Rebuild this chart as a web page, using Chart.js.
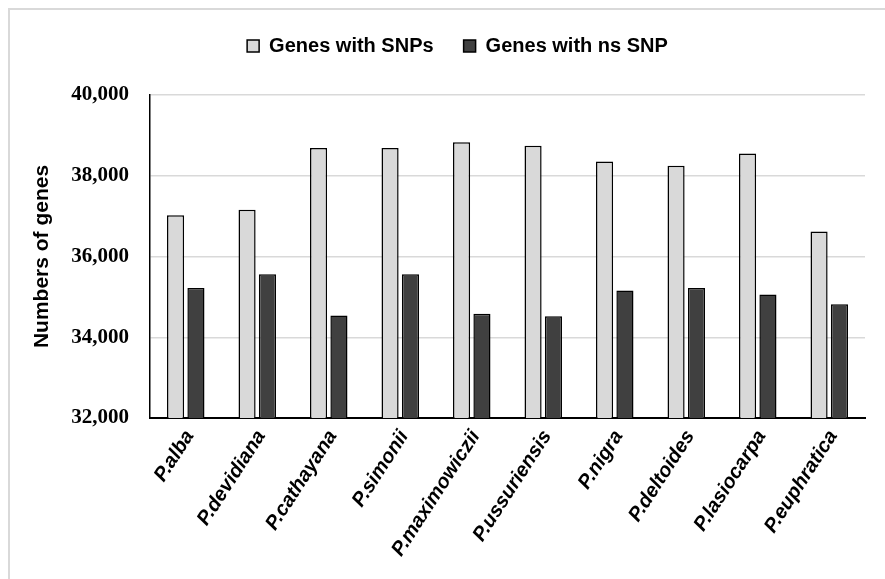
<!DOCTYPE html>
<html>
<head>
<meta charset="utf-8">
<script src="https://cdn.jsdelivr.net/npm/chart.js@4/dist/chart.umd.min.js"></script>
<style>
  html, body { margin: 0; padding: 0; background: #fff; }
  #wrap { position: relative; width: 885px; height: 579px; }
</style>
</head>
<body>
<div id="wrap"><canvas id="c" width="885" height="579"></canvas></div>
<script>
// Poplar species and gene counts
const species = ['P.alba', 'P.devidiana', 'P.cathayana', 'P.simonii', 'P.maximowiczii',
  'P.ussuriensis', 'P.nigra', 'P.deltoides', 'P.lasiocarpa', 'P.euphratica'];
const genesWithSNPs = [37020, 37160, 38690, 38690, 38830, 38740, 38350, 38250, 38550, 36620];
const genesWithNsSNP = [35220, 35560, 34540, 35560, 34580, 34520, 35160, 35220, 35060, 34820];
const yTicks = [32000, 34000, 36000, 38000, 40000];

const SANS = '"Liberation Sans", Arial, sans-serif';
const SERIF = '"Liberation Serif", "Times New Roman", serif';

// light grey frame along the top and left edge
const framePlugin = {
  id: 'frame',
  beforeDraw(chart) {
    const ctx = chart.ctx;
    ctx.save();
    ctx.strokeStyle = '#d9d9d9';
    ctx.lineWidth = 2;
    ctx.beginPath();
    ctx.moveTo(9, 579);
    ctx.lineTo(9, 9);
    ctx.lineTo(885, 9);
    ctx.stroke();
    ctx.restore();
  }
};

// move the legend right and up, leaving a gap above the plot
const legendShift = {
  id: 'legendShift',
  afterLayout(chart) {
    const lg = chart.legend;
    if (lg) {
      lg.left += 15;
      lg.right += 15;
      lg.top -= 29;
      lg.bottom -= 29;
    }
  }
};

new Chart(document.getElementById('c'), {
  type: 'bar',
  data: {
    labels: species,
    datasets: [
      {
        label: 'Genes with SNPs',
        data: genesWithSNPs,
        backgroundColor: '#d9d9d9',
        borderColor: '#000',
        borderWidth: 1.5,
        categoryPercentage: 0.57,
        barPercentage: 0.84
      },
      {
        label: 'Genes with ns SNP',
        data: genesWithNsSNP,
        backgroundColor: '#404040',
        borderColor: '#000',
        borderWidth: 1.5,
        categoryPercentage: 0.57,
        barPercentage: 0.84
      }
    ]
  },
  options: {
    responsive: false,
    animation: false,
    devicePixelRatio: 1,
    layout: { padding: { left: 20, right: 20, top: 35, bottom: 0 } },
    plugins: {
      tooltip: { enabled: false },
      legend: {
        position: 'top',
        labels: {
          color: '#000',
          boxWidth: 12,
          boxHeight: 12,
          padding: 30,
          font: { family: SANS, size: 20, weight: 'bold' }
        }
      }
    },
    scales: {
      x: {
        grid: { display: false, drawTicks: false },
        border: { display: true, color: '#000', width: 2 },
        ticks: {
          color: '#000',
          maxRotation: 57,
          minRotation: 57,
          autoSkip: false,
          padding: 8,
          labelOffset: 4,
          font: { family: SANS, size: 20, weight: 'bold', style: 'italic' }
        },
        afterFit(scale) { scale.height = 161; }
      },
      y: {
        min: yTicks[0],
        max: yTicks[yTicks.length - 1],
        afterBuildTicks(scale) { scale.ticks = yTicks.map(v => ({ value: v })); },
        grid: { color: '#d9d9d9', lineWidth: 1.5, drawTicks: false },
        border: { display: true, color: '#000', width: 1.5 },
        ticks: {
          color: '#000',
          padding: 21,
          font: { family: SERIF, size: 21, weight: 'bold' },
          callback: v => Number(v).toLocaleString('en-US')
        },
        title: {
          display: true,
          text: 'Numbers of genes',
          color: '#000',
          padding: { top: 10, bottom: 0 },
          font: { family: SANS, size: 21, weight: 'bold' }
        },
        afterFit(scale) { scale.width = 130; }
      }
    }
  },
  plugins: [framePlugin, legendShift]
});
</script>
</body>
</html>
